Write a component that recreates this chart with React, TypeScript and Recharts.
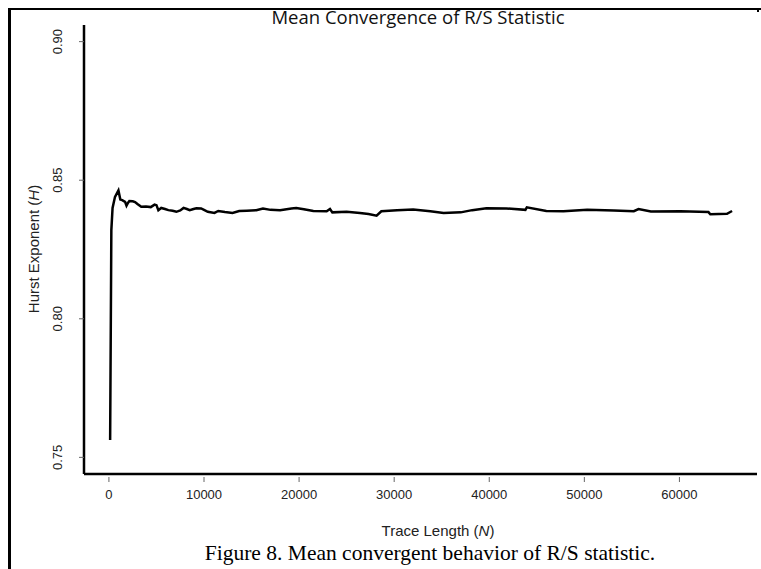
import { LineChart, Line, XAxis, YAxis } from "recharts"

// trace length N and mean Hurst exponent H
const traceLength = [
  128, 256, 384, 640, 1000, 1200, 1400, 1700, 1850, 2000, 2150, 2500, 2750, 3000, 3400, 3900, 4400,
  4800, 5000, 5200, 5500, 5900, 6250, 6700, 7100, 7500, 7850, 8200, 8500, 8900, 9200, 9700, 10000,
  10400, 11100, 11500, 12200, 13000, 13700, 14500, 15500, 16200, 17000, 18000, 19200, 19700, 20500,
  21500, 22900, 23250, 23500, 25000, 26400, 27300, 28150, 28650, 30300, 32000, 33800, 35200, 37000,
  38200, 39700, 41800, 43800, 43950, 46000, 47800, 50300, 53100, 55200, 55700, 57000, 60100, 63050,
  63250, 65000, 65536,
]
const hurst = [
  0.7563, 0.832, 0.84, 0.844, 0.8463, 0.843, 0.8428, 0.8422, 0.8408, 0.8418, 0.8425, 0.8424, 0.8421,
  0.8414, 0.8404, 0.8405, 0.8403, 0.8412, 0.841, 0.8392, 0.84, 0.8396, 0.8392, 0.839, 0.8386, 0.8391,
  0.84, 0.8396, 0.8392, 0.8396, 0.8399, 0.8398, 0.8393, 0.8386, 0.8382, 0.8389, 0.8385, 0.8382, 0.8389,
  0.839, 0.8392, 0.8398, 0.8393, 0.8392, 0.8398, 0.84, 0.8395, 0.8389, 0.8388, 0.8396, 0.8384, 0.8386,
  0.8382, 0.8378, 0.8372, 0.8388, 0.8392, 0.8394, 0.8388, 0.8382, 0.8384, 0.8392, 0.8399, 0.8398,
  0.8393, 0.8402, 0.8389, 0.8388, 0.8393, 0.8391, 0.8388, 0.8396, 0.8387, 0.8388, 0.8385, 0.8377,
  0.8379, 0.8389,
]

const xTicks = [0, 10000, 20000, 30000, 40000, 50000, 60000]
const yTicks = [0.75, 0.8, 0.85, 0.9]

const title = "Mean Convergence of R/S Statistic"
const caption = "Figure 8. Mean convergent behavior of R/S statistic."

const data = traceLength.map((n, i) => ({ n, h: hurst[i] }))

const sans = "'Liberation Sans', Arial, sans-serif"

function XTick(props: any) {
  const { x, y, payload } = props
  return (
    <g>
      <line x1={x} x2={x} y1={y + 3} y2={y + 8} stroke="#666" strokeWidth={1} />
      <text x={x} y={y + 25} textAnchor="middle" fontSize={13} fill="#222" fontFamily={sans}>
        {payload.value}
      </text>
    </g>
  )
}

function YTick(props: any) {
  const { x, y, payload } = props
  return (
    <g>
      <line x1={x - 5} x2={x} y1={y} y2={y} stroke="#666" strokeWidth={1} />
      <text
        x={x - 22}
        y={y}
        transform={`rotate(-90 ${x - 22} ${y})`}
        textAnchor="middle"
        fontSize={13}
        fill="#222"
        fontFamily={sans}
      >
        {payload.value.toFixed(2)}
      </text>
    </g>
  )
}

export default function App() {
  return (
    <div style={{ position: "absolute", left: 0, top: 0, width: 761, height: 569, background: "#fff", overflow: "hidden" }}>
      {/* frame: top and left rules */}
      <div style={{ position: "absolute", left: 8, top: 8, width: 750, height: 561, borderTop: "2px solid #000", borderLeft: "3px solid #000" }} />
      <div style={{ position: "absolute", left: 757, top: 8, width: 2, height: 4, background: "#000" }} />
      <div style={{ position: "absolute", left: 0, top: 0 }}>
        <LineChart width={761} height={569} data={data} margin={{ top: 25, right: 4, bottom: 65, left: 24 }}>
          <XAxis
            type="number"
            dataKey="n"
            domain={[-2620, 68157]}
            ticks={xTicks}
            height={30}
            tickSize={0}
            tickMargin={0}
            tickLine={false}
            axisLine={{ stroke: "#000", strokeWidth: 2.5 }}
            tick={<XTick />}
            interval={0}
          />
          <YAxis
            type="number"
            domain={[0.744, 0.906]}
            ticks={yTicks}
            width={60}
            tickSize={0}
            tickMargin={0}
            tickLine={false}
            axisLine={{ stroke: "#000", strokeWidth: 2.5 }}
            tick={<YTick />}
            interval={0}
            allowDataOverflow
          />
          <Line
            type="linear"
            dataKey="h"
            stroke="#000"
            strokeWidth={2.5}
            dot={false}
            isAnimationActive={false}
          />
        </LineChart>
      </div>
      <svg width={761} height={569} style={{ position: "absolute", left: 0, top: 0, pointerEvents: "none" }}>
        <text x={418} y={24} textAnchor="middle" fontFamily="'Open Sans', sans-serif" fontSize={18.5} fill="#111">
          {title}
        </text>
        <text
          x={39}
          y={249}
          transform="rotate(-90 39 249)"
          textAnchor="middle"
          fontFamily={sans}
          fontSize={15}
          fill="#222"
        >
          Hurst Exponent (<tspan fontStyle="italic">H</tspan>)
        </text>
        <text x={438} y={536} textAnchor="middle" fontFamily={sans} fontSize={15} fill="#222">
          Trace Length (<tspan fontStyle="italic">N</tspan>)
        </text>
        <text
          x={430}
          y={560}
          textAnchor="middle"
          fontFamily="'Liberation Serif', 'Times New Roman', serif"
          fontSize={21.5}
          fill="#000"
        >
          {caption}
        </text>
      </svg>
    </div>
  )
}
